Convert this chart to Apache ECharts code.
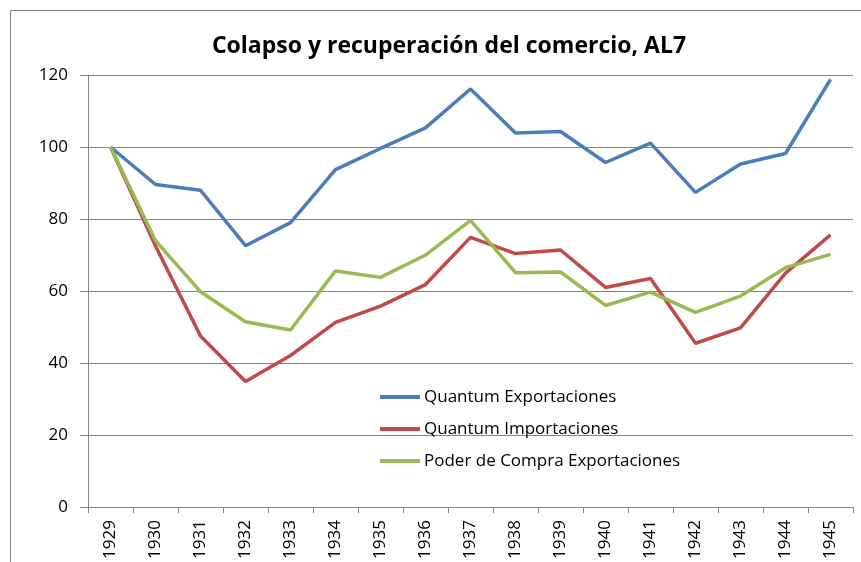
<!DOCTYPE html>
<html>
<head>
<meta charset="utf-8">
<script src="https://cdn.jsdelivr.net/npm/echarts@6/dist/echarts.min.js"></script>
<style>
  html, body { margin: 0; padding: 0; background: #fff; }
  #chart { width: 861px; height: 562px; }
</style>
</head>
<body>
<div id="chart"></div>
<script>
// data
const years = ["1929", "1930", "1931", "1932", "1933", "1934", "1935", "1936", "1937",
  "1938", "1939", "1940", "1941", "1942", "1943", "1944", "1945"];
const quantumExport = [100, 89.6, 88, 72.6, 79, 93.7, 99.6, 105.3, 116.1, 103.9, 104.3, 95.7, 101.1, 87.4, 95.3, 98.2, 118.8];
const quantumImport = [100, 72.5, 47.5, 34.9, 42.1, 51.3, 55.8, 61.8, 74.9, 70.4, 71.4, 61, 63.5, 45.5, 49.8, 65, 75.6];
const poderCompra = [100, 74, 59.8, 51.5, 49.2, 65.6, 63.8, 70, 79.6, 65.1, 65.3, 56, 59.7, 54.1, 58.6, 66.5, 70.2];
const seriesNames = ["Quantum Exportaciones", "Quantum Importaciones", "Poder de Compra Exportaciones"];
const yTicks = { min: 0, max: 120, interval: 20 };

const font = "'Open Sans', Lato, sans-serif";
const axisGray = "#868686";

let chart = echarts.init(document.getElementById("chart"), null, { renderer: "canvas" });

let option = {
  backgroundColor: "#fff",
  animation: false,
  color: ["#4A7EBB", "#BE4B48", "#98B954"],
  title: {
    text: "Colapso y recuperación del comercio, AL7",
    left: 444,
    textAlign: "center",
    top: 30,
    textStyle: { fontFamily: font, fontSize: 23, fontWeight: "bold", color: "#000" },
  },
  graphic: [
    {
      type: "rect",
      shape: { x: 10.5, y: 10.5, width: 900, height: 600 },
      style: { fill: "none", stroke: axisGray, lineWidth: 1 },
      silent: true,
    },
  ],
  legend: {
    orient: "vertical",
    left: 375,
    top: 382,
    icon: "rect",
    itemWidth: 40,
    itemHeight: 4,
    itemGap: 12,
    data: seriesNames,
    textStyle: { fontFamily: font, fontSize: 17, color: "#000", lineHeight: 20, padding: [0, 0, 0, -1] },
  },
  grid: { left: 88, right: 8, top: 75, bottom: 53 },
  xAxis: {
    type: "category",
    data: years,
    boundaryGap: true,
    axisLine: { lineStyle: { color: axisGray, width: 1 } },
    axisTick: { show: true, length: 6, lineStyle: { color: axisGray } },
    axisLabel: { rotate: 90, margin: 13, color: "#000", fontFamily: font, fontSize: 17 },
  },
  yAxis: {
    type: "value",
    min: yTicks.min,
    max: yTicks.max,
    interval: yTicks.interval,
    axisLine: { show: true, lineStyle: { color: axisGray, width: 1 } },
    axisTick: { show: true, length: 8, lineStyle: { color: axisGray } },
    axisLabel: { margin: 20, color: "#000", fontFamily: font, fontSize: 17 },
    splitLine: { lineStyle: { color: axisGray, width: 1 } },
  },
  series: [
    { name: seriesNames[0], type: "line", data: quantumExport },
    { name: seriesNames[1], type: "line", data: quantumImport },
    { name: seriesNames[2], type: "line", data: poderCompra },
  ].map(function (s) {
    return Object.assign(s, {
      symbol: "none",
      lineStyle: { width: 3.5 },
      z: 3,
    });
  }),
};

chart.setOption(option);
</script>
</body>
</html>
